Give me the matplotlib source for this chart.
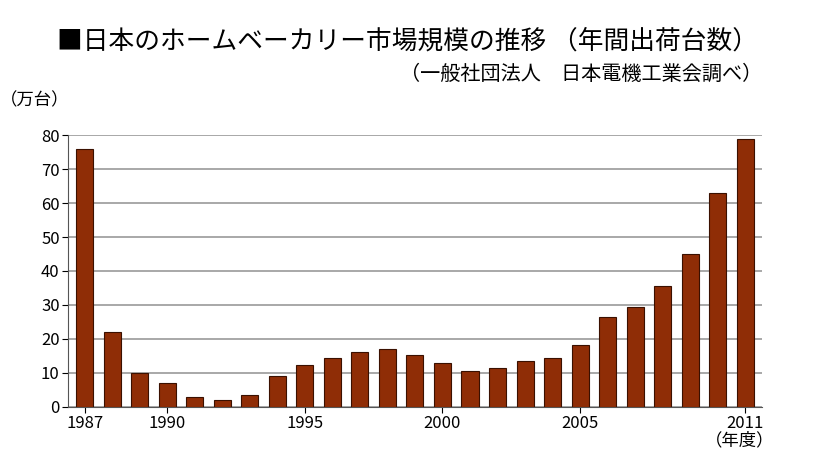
import matplotlib
matplotlib.use("Agg")
import matplotlib.pyplot as plt

matplotlib.rcParams["font.family"] = "Noto Sans CJK JP"

years = list(range(1987, 2012))
units = [76, 22, 10, 7, 3, 2, 3.5, 9, 12.3, 14.3, 16, 17, 15.3, 13, 10.5,
         11.3, 13.5, 14.5, 18.2, 26.5, 29.5, 35.5, 45, 63, 79]
tick_years = [1987, 1990, 1995, 2000, 2005, 2011]

fig = plt.figure(figsize=(8.2, 4.66), dpi=100)
ax = fig.add_axes([0.083, 0.127, 0.846, 0.583])

ax.bar(years, units, width=0.62, color="#8f2d06", edgecolor="#3a1000", linewidth=0.8, zorder=3)
ax.set_xlim(1986.4, 2011.6)
ax.set_ylim(0, 80)
ax.set_yticks(range(0, 81, 10))
ax.set_xticks(tick_years)
ax.tick_params(labelsize=12, length=4, pad=2)
ax.grid(axis="y", color="#999999", linewidth=1.2, zorder=0)
for side in ["top", "right"]:
    ax.spines[side].set_visible(False)
ax.spines["left"].set_color("#555555")
ax.spines["bottom"].set_color("#555555")

fig.text(0.07, 0.91, "■日本のホームベーカリー市場規模の推移 （年間出荷台数）", fontsize=18.5, va="center")
fig.text(0.93, 0.84, "（一般社団法人　日本電機工業会調べ）", fontsize=14.5, ha="right", va="center")
fig.text(0.0, 0.785, "（万台）", fontsize=12.5, va="center")
fig.text(0.86, 0.055, "（年度）", fontsize=12.5, va="center")

fig.savefig("out.png", dpi=100)
